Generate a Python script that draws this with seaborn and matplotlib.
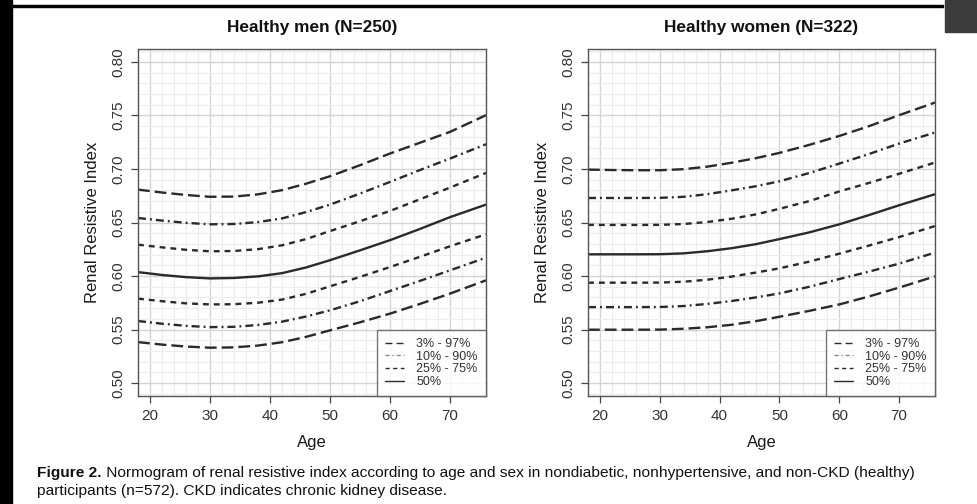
import numpy as np
import pandas as pd
import matplotlib
matplotlib.use("Agg")
import matplotlib.pyplot as plt
from matplotlib.lines import Line2D
from matplotlib.patches import Rectangle
from matplotlib.ticker import MultipleLocator
import seaborn as sns

ages = [18, 22, 26, 30, 34, 38, 42, 46, 50, 55, 60, 65, 70, 76]

men_p97 = [0.6807, 0.6780, 0.6757, 0.6740, 0.6742, 0.6763, 0.6802, 0.6862, 0.6932, 0.7035, 0.7144, 0.7245, 0.7346, 0.7502]
men_p90 = [0.6542, 0.6518, 0.6497, 0.6483, 0.6486, 0.6504, 0.6538, 0.6597, 0.6667, 0.6770, 0.6879, 0.6990, 0.7097, 0.7231]
men_p75 = [0.6293, 0.6268, 0.6245, 0.6231, 0.6234, 0.6251, 0.6287, 0.6345, 0.6420, 0.6512, 0.6608, 0.6717, 0.6826, 0.6963]
men_p50 = [0.6037, 0.6010, 0.5990, 0.5978, 0.5982, 0.5997, 0.6027, 0.6080, 0.6148, 0.6240, 0.6335, 0.6440, 0.6550, 0.6667]
men_p25 = [0.5789, 0.5765, 0.5745, 0.5735, 0.5737, 0.5751, 0.5780, 0.5834, 0.5904, 0.5992, 0.6084, 0.6180, 0.6278, 0.6390]
men_p10 = [0.5580, 0.5555, 0.5535, 0.5523, 0.5526, 0.5543, 0.5574, 0.5622, 0.5680, 0.5765, 0.5860, 0.5955, 0.6053, 0.6172]
men_p3 = [0.5383, 0.5360, 0.5342, 0.5331, 0.5334, 0.5351, 0.5382, 0.5432, 0.5493, 0.5568, 0.5649, 0.5740, 0.5836, 0.5960]

women_p97 = [0.6994, 0.6990, 0.6988, 0.6988, 0.6998, 0.7022, 0.7058, 0.7100, 0.7150, 0.7225, 0.7308, 0.7400, 0.7502, 0.7620]
women_p90 = [0.6729, 0.6729, 0.6729, 0.6730, 0.6740, 0.6765, 0.6800, 0.6838, 0.6885, 0.6962, 0.7050, 0.7140, 0.7237, 0.7340]
women_p75 = [0.6478, 0.6477, 0.6477, 0.6478, 0.6486, 0.6505, 0.6535, 0.6575, 0.6628, 0.6700, 0.6790, 0.6870, 0.6955, 0.7060]
women_p50 = [0.6203, 0.6203, 0.6203, 0.6204, 0.6212, 0.6232, 0.6260, 0.6297, 0.6345, 0.6408, 0.6483, 0.6570, 0.6661, 0.6764]
women_p25 = [0.5938, 0.5938, 0.5938, 0.5939, 0.5947, 0.5966, 0.5995, 0.6032, 0.6072, 0.6135, 0.6209, 0.6285, 0.6364, 0.6467]
women_p10 = [0.5710, 0.5710, 0.5710, 0.5711, 0.5720, 0.5740, 0.5767, 0.5800, 0.5838, 0.5900, 0.5972, 0.6042, 0.6116, 0.6219]
women_p3 = [0.5499, 0.5499, 0.5499, 0.5500, 0.5508, 0.5522, 0.5545, 0.5578, 0.5620, 0.5675, 0.5735, 0.5810, 0.5892, 0.5997]

bands = ["3% - 97%", "10% - 90%", "25% - 75%", "50%"]
titles = ["Healthy men (N=250)", "Healthy women (N=322)"]
caption_bold = "Figure 2."
caption_rest = (" Normogram of renal resistive index according to age and sex in nondiabetic, "
                "nonhypertensive, and non-CKD (healthy)")
caption_line2 = "participants (n=572). CKD indicates chronic kidney disease."

sns.set_style("white")
plt.rcParams["font.family"] = ["Liberation Sans", "DejaVu Sans"]


def to_long(p3, p10, p25, p50, p75, p90, p97):
    curves = [("p3", bands[0], p3), ("p97", bands[0], p97),
              ("p10", bands[1], p10), ("p90", bands[1], p90),
              ("p25", bands[2], p25), ("p75", bands[2], p75),
              ("p50", bands[3], p50)]
    rows = []
    for name, band, vals in curves:
        for a, v in zip(ages, vals):
            rows.append({"Age": a, "RI": v, "curve": name, "band": band})
    return pd.DataFrame(rows)


df_men = to_long(men_p3, men_p10, men_p25, men_p50, men_p75, men_p90, men_p97)
df_women = to_long(women_p3, women_p10, women_p25, women_p50, women_p75, women_p90, women_p97)

line_col = "#2a2a2a"
lw = 1.7
dash_map = {bands[0]: (5.0, 2.1), bands[1]: (3.4, 1.7, 0.8, 1.7), bands[2]: (2.5, 2.1), bands[3]: ""}

fig = plt.figure(figsize=(9.78, 5.04), dpi=100)
fig.patch.set_facecolor("white")

axes = [fig.add_axes([138 / 978, 108 / 504, 348 / 978, 347 / 504]),
        fig.add_axes([588 / 978, 108 / 504, 347 / 978, 347 / 504])]

for ax, df, title in zip(axes, [df_men, df_women], titles):
    sns.lineplot(data=df, x="Age", y="RI", style="band", units="curve", estimator=None,
                 dashes=dash_map, color=line_col, linewidth=lw, legend=False, ax=ax)
    ax.set_xlim(18, 76)
    ax.set_ylim(0.488, 0.812)
    ax.xaxis.set_major_locator(MultipleLocator(10))
    ax.xaxis.set_minor_locator(MultipleLocator(2))
    ax.yaxis.set_major_locator(MultipleLocator(0.05))
    ax.yaxis.set_minor_locator(MultipleLocator(0.01))
    ax.grid(which="major", color="#d4d4d4", linewidth=1.0)
    ax.grid(which="minor", color="#ececec", linewidth=0.8)
    ax.set_axisbelow(True)
    ax.tick_params(which="major", direction="out", length=5, width=0.9, color="#444444",
                   labelsize=11, labelcolor="#333333", pad=4, left=True, bottom=True)
    ax.tick_params(which="minor", length=0)
    ax.set_yticks([0.50, 0.55, 0.60, 0.65, 0.70, 0.75, 0.80])
    ax.set_yticklabels(["0.50", "0.55", "0.60", "0.65", "0.70", "0.75", "0.80"],
                       rotation=90, va="center")
    ax.set_xticks([20, 30, 40, 50, 60, 70])
    for s in ax.spines.values():
        s.set_color("#555555")
        s.set_linewidth(1.0)
    ax.set_xlabel("Age", fontsize=12, color="#1a1a1a", labelpad=9)
    ax.set_ylabel("Renal Resistive Index", fontsize=12, color="#1a1a1a", labelpad=8)
    ax.text(0.5, 1.063, title, transform=ax.transAxes, ha="center", va="center",
            fontsize=12.4, fontweight="bold", color="#111111")

    handles = [Line2D([0], [0], color=line_col, lw=1.0, dashes=(5, 3)),
               Line2D([0], [0], color="#888888", lw=1.0, dashes=(3, 2, 1, 2)),
               Line2D([0], [0], color=line_col, lw=1.0, dashes=(3, 2.5)),
               Line2D([0], [0], color=line_col, lw=1.0)]
    leg = ax.legend(handles, bands, loc="lower right", fontsize=9, frameon=True,
                    fancybox=False, borderaxespad=0, handlelength=1.5, handletextpad=1.0,
                    labelspacing=0.05, borderpad=0.65)
    leg.get_frame().set_edgecolor("#555555")
    leg.get_frame().set_linewidth(1.0)
    for t in leg.get_texts():
        t.set_color("#333333")

# bordures de la capture d'écran
fig.add_artist(Rectangle((0, 0), 12 / 978, 1, transform=fig.transFigure, color="black", zorder=5))
fig.add_artist(Rectangle((12 / 978, 1 - 7 / 504), 931 / 978, 2 / 504, transform=fig.transFigure,
                         color="black", zorder=5))
fig.add_artist(Rectangle((945 / 978, 1 - 32 / 504), 33 / 978, 32 / 504, transform=fig.transFigure,
                         color="#3c3c3c", zorder=5))

# légende de la figure
y1 = 1 - 473 / 504
y2 = 1 - 491 / 504
tb = fig.text(37 / 978, y1, caption_bold, fontsize=11.15, fontweight="bold", va="center", color="#111111")
fig.canvas.draw()
bb = tb.get_window_extent(fig.canvas.get_renderer())
fig.text(bb.x1 / fig.bbox.width, y1, caption_rest, fontsize=11.15, va="center", color="#111111")
fig.text(37 / 978, y2, caption_line2, fontsize=11.15, va="center", color="#111111")

fig.savefig("out.png", dpi=100)
